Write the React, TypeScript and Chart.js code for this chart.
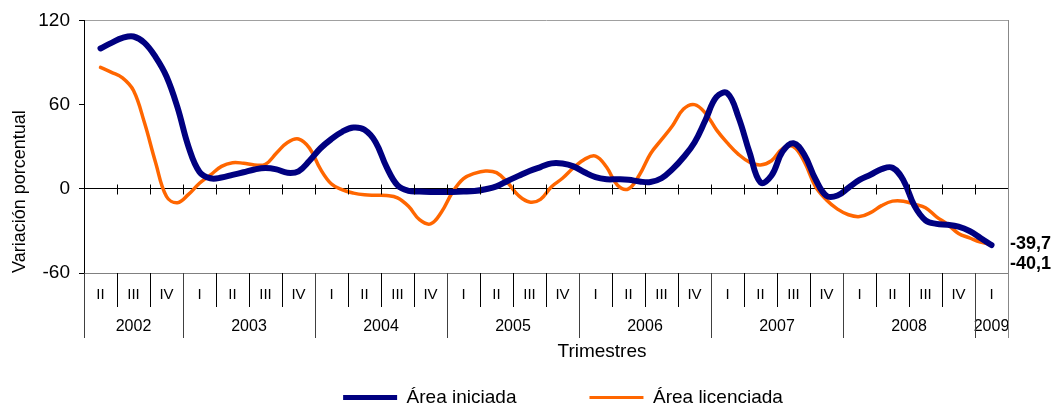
import React, { useEffect, useRef } from 'react';
import { Chart, registerables } from 'chart.js';

Chart.register(...registerables);

const FONT = '"Liberation Sans", Arial, Helvetica, sans-serif';

// ---------------- data ----------------
const quarterLabels = [
  'II', 'III', 'IV',
  'I', 'II', 'III', 'IV',
  'I', 'II', 'III', 'IV',
  'I', 'II', 'III', 'IV',
  'I', 'II', 'III', 'IV',
  'I', 'II', 'III', 'IV',
  'I', 'II', 'III', 'IV',
  'I',
];
const yearLabels = ['2002', '2003', '2004', '2005', '2006', '2007', '2008', '2009'];
const quartersPerYear = [3, 4, 4, 4, 4, 4, 4, 1];

const seriesNames = ['Área iniciada', 'Área licenciada'];
const seriesColors = ['#000080', '#FF6600'];

// monthly readings, first value = middle month of 2002 II, last = middle month of 2009 I
const areaIniciada = [
  100, 104, 107.5, 108.5, 104, 94, 80, 58, 30, 12,
  7.5, 8, 9.9, 11.8, 13.8, 14.8, 13.8, 11.4, 12.5, 20,
  28.9, 35.5, 40.8, 43.6, 42, 33.4, 15.6, 2.5, -1.5, -2,
  -2.2, -2.2, -2.2, -2, -1.6, -0.3, 1.7, 5.6, 9.2, 12.7,
  15.5, 18.1, 18, 16, 11.8, 8.3, 6.8, 6.8, 6.5, 5.2,
  4.8, 7.5, 14, 22.5, 33, 49, 65.5, 68, 51, 26,
  4.5, 9.5, 26.5, 32.5, 24, 6.8, -5, -4.8, 0.8, 6.3,
  10, 14, 15, 6, -12.2, -22.5, -25, -25.6, -27, -30.1,
  -35, -40.1,
];
const areaLicenciada = [
  86.5, 83, 79, 70, 47, 19, -5.5, -9.9, -4, 4,
  9.9, 16, 18.6, 18.2, 17, 17.5, 25.5, 33, 35.5, 29,
  14, 3.4, -0.8, -3.1, -4.3, -4.6, -4.8, -6.5, -12.5, -22,
  -25, -16.5, -2.4, 7.3, 11, 12.7, 11.5, 4.5, -4.8, -9.4,
  -7.5, 1.5, 7.5, 15, 21, 23.3, 15.5, 2.5, 0, 10,
  25, 35, 45, 56.8, 60, 53.8, 42, 32.5, 24.5, 19,
  17, 20, 28.5, 30, 19, 1.5, -8, -14.5, -18.5, -19.8,
  -17, -12, -8.8, -8.8, -11, -13.5, -20, -25.3, -31.8, -35,
  -38, -39.7,
];
const endValueLabels = ['-39,7', '-40,1'];
const endValues = [-39.7, -40.1];
const yTickValues = [-60, 0, 60, 120];
const yTitle = 'Variación porcentual';
const xTitle = 'Trimestres';

// month-based coordinates: quarter k spans months [-1.5 + 3k, 1.5 + 3k]
const MONTHS_PER_QUARTER = 3;
const firstBoundary = -1.5;
const lastBoundary = firstBoundary + quarterLabels.length * MONTHS_PER_QUARTER;

const yearStartQuarter: number[] = [];
quartersPerYear.reduce((acc, n) => {
  yearStartQuarter.push(acc);
  return acc + n;
}, 0);
const yearCenters = yearStartQuarter.map(
  (s, i) => firstBoundary + MONTHS_PER_QUARTER * (s + quartersPerYear[i] / 2)
);
const yearBoundaryQuarters = [...yearStartQuarter, quarterLabels.length];

const LEGEND_FONT = 19;
const LEGEND_GAP = 73;

const decorPlugin = {
  id: 'decor',
  afterLayout(chart: any) {
    const lg = chart.legend;
    if (lg) {
      lg.left += 17;
      lg.right += 17;
      // place the legend row centre at y = 397 (only move the top edge, keep the clip box valid)
      const dy = 397.5 - (lg.top + LEGEND_GAP + LEGEND_FONT / 2);
      lg.top += dy;
    }
  },
  afterDraw(chart: any) {
    const { ctx, chartArea } = chart;
    const x = chart.scales.x;
    const y = chart.scales.y;
    const y0 = Math.round(y.getPixelForValue(0)) + 0.5;
    const bottom = Math.round(chartArea.bottom);
    const snap = (v: number) => Math.round(v) + 0.5;
    ctx.save();
    ctx.lineWidth = 1;
    ctx.strokeStyle = '#000';
    // crossing ticks on the zero line
    for (let k = 1; k < quarterLabels.length; k++) {
      const px = snap(x.getPixelForValue(firstBoundary + k * MONTHS_PER_QUARTER));
      ctx.beginPath();
      ctx.moveTo(px, y0 - 5);
      ctx.lineTo(px, y0 + 5);
      ctx.stroke();
    }
    // quarter separators in the category table
    for (let k = 0; k <= quarterLabels.length; k++) {
      const px = snap(x.getPixelForValue(firstBoundary + k * MONTHS_PER_QUARTER));
      ctx.beginPath();
      ctx.moveTo(px, bottom);
      ctx.lineTo(px, bottom + 34);
      ctx.stroke();
    }
    // year separators
    ctx.strokeStyle = '#404040';
    yearBoundaryQuarters.forEach((k) => {
      const px = snap(x.getPixelForValue(firstBoundary + k * MONTHS_PER_QUARTER));
      ctx.beginPath();
      ctx.moveTo(px, bottom);
      ctx.lineTo(px, bottom + 65);
      ctx.stroke();
    });
    // right frame border
    ctx.strokeStyle = '#888888';
    const rx = snap(chartArea.right);
    ctx.beginPath();
    ctx.moveTo(rx, Math.round(chartArea.top));
    ctx.lineTo(rx, bottom + 65);
    ctx.stroke();

    // axis title for the category table
    ctx.fillStyle = '#000';
    ctx.font = `19px ${FONT}`;
    ctx.textAlign = 'center';
    ctx.textBaseline = 'middle';
    ctx.fillText(xTitle, chartArea.left + 518, bottom + 79);

    // end value labels
    ctx.font = `bold 18px ${FONT}`;
    ctx.textAlign = 'left';
    const ly = y.getPixelForValue(endValues[0]);
    endValueLabels.forEach((t, i) => {
      ctx.fillText(t, chartArea.right + 2, ly + i * 20);
    });
    ctx.restore();
  },
};

export default function App() {
  const canvasRef = useRef<HTMLCanvasElement | null>(null);

  useEffect(() => {
    document.body.style.margin = '0';
    const canvas = canvasRef.current;
    if (!canvas) return;
    Chart.defaults.font.family = FONT;
    Chart.defaults.color = '#000';

    const makeSet = (i: number, values: number[], width: number, legendWidth: number) => ({
      label: seriesNames[i],
      data: values.map((v, m) => ({ x: m, y: v })),
      borderColor: seriesColors[i],
      backgroundColor: seriesColors[i],
      borderWidth: width,
      pointRadius: 0,
      pointHoverRadius: 0,
      pointBorderWidth: legendWidth,
      pointBorderColor: seriesColors[i],
      pointBackgroundColor: seriesColors[i],
      tension: 0.4,
      borderCapStyle: 'round',
      borderJoinStyle: 'round',
      fill: false,
      xAxisID: 'x',
      yAxisID: 'y',
    });

    const chart = new Chart(canvas, {
      type: 'line',
      data: {
        datasets: [
          makeSet(0, areaIniciada, 6, 5) as any,
          makeSet(1, areaLicenciada, 3.5, 3) as any,
        ],
      },
      options: {
        animation: false,
        responsive: false,
        devicePixelRatio: 1,
        events: [],
        layout: { padding: { top: 15, right: 49, left: 0, bottom: 0 } },
        scales: {
          x: {
            type: 'linear',
            display: false,
            min: firstBoundary,
            max: lastBoundary,
            bounds: 'data',
            weight: 0,
          },
          xq: {
            type: 'category',
            labels: quarterLabels,
            position: 'bottom',
            offset: true,
            weight: 1,
            grid: { display: false, drawTicks: false },
            border: { display: false },
            ticks: {
              autoSkip: false,
              maxRotation: 0,
              minRotation: 0,
              padding: 13,
              color: '#000',
              font: { size: 15 },
            },
            afterFit: (s: any) => {
              s.height = 34;
            },
          },
          xy: {
            type: 'linear',
            position: 'bottom',
            min: firstBoundary,
            max: lastBoundary,
            bounds: 'data',
            weight: 2,
            grid: { display: false, drawTicks: false },
            border: { display: false },
            afterBuildTicks: (s: any) => {
              s.ticks = yearCenters.map((v) => ({ value: v }));
            },
            ticks: {
              autoSkip: false,
              maxRotation: 0,
              minRotation: 0,
              padding: 10.4,
              color: '#000',
              font: { size: 16 },
              callback: (_v: any, i: number) => yearLabels[i],
            },
            afterFit: (s: any) => {
              s.height = 31;
            },
          },
          y: {
            type: 'linear',
            position: 'left',
            min: -60,
            max: 120,
            afterBuildTicks: (s: any) => {
              s.ticks = yTickValues.map((v) => ({ value: v }));
            },
            grid: {
              color: (c: any) => {
                const v = c.tick ? c.tick.value : null;
                if (v === 0) return '#000000';
                if (v === 120) return '#A0A0A0';
                if (v === -60) return '#808080';
                return 'rgba(0,0,0,0)';
              },
              tickColor: '#000',
              tickLength: 5,
              lineWidth: 1,
              drawOnChartArea: true,
            },
            border: { color: '#000', width: 1 },
            ticks: { padding: 9, color: '#000', font: { size: 19 } },
            title: {
              display: true,
              text: yTitle,
              align: 'start',
              color: '#000',
              font: { size: 18 },
              padding: { top: 9, bottom: 0 },
            },
            afterFit: (s: any) => {
              s.width = 84;
            },
          },
        },
        plugins: {
          legend: {
            position: 'bottom',
            fullSize: false,
            maxHeight: 70,
            labels: {
              usePointStyle: true,
              pointStyle: 'line',
              pointStyleWidth: 54,
              padding: LEGEND_GAP,
              color: '#000',
              font: { size: LEGEND_FONT },
            },
          },
          tooltip: { enabled: false },
        },
      } as any,
      plugins: [decorPlugin],
    });

    return () => {
      chart.destroy();
    };
  }, []);

  return (
    <canvas
      ref={canvasRef}
      width={1057}
      height={408}
      style={{ display: 'block', width: '1057px', height: '408px' }}
    />
  );
}
